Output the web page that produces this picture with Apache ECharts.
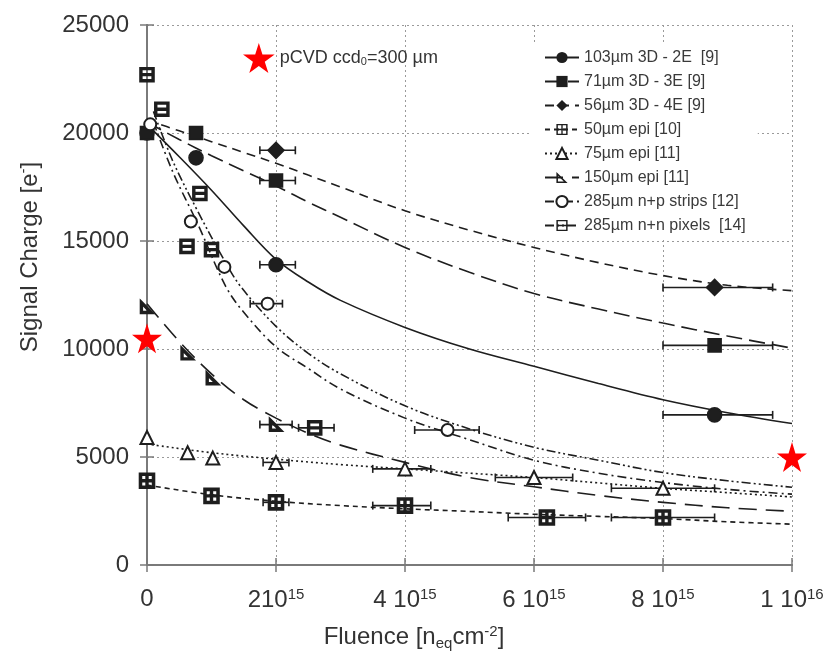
<!DOCTYPE html>
<html><head><meta charset="utf-8">
<script src="https://cdn.jsdelivr.net/npm/echarts@6/dist/echarts.min.js"></script>
<style>html,body{margin:0;padding:0;background:#fff}#c{width:828px;height:660px}</style>
</head><body><div id="c"></div>
<script>
// x values in units of 1e15 n_eq/cm^2, y in electrons
const seriesNames = ['103µm 3D - 2E  [9]','71µm 3D - 3E [9]','56µm 3D - 4E [9]','50µm epi [10]','75µm epi [11]','150µm epi [11]','285µm n+p strips [12]','285µm n+n pixels  [14]'];

// measured points
const p103X = [0, 0.76, 2, 8.8];           const p103Y = [20000, 18850, 13900, 6950];
const p71X  = [0, 0.76, 2, 8.8];           const p71Y  = [20000, 20000, 17800, 10170];
const p56X  = [2, 8.8];                     const p56Y  = [19200, 12850];
const p50X  = [0, 1, 2, 4, 6.2, 8];         const p50Y  = [3900, 3200, 2900, 2750, 2200, 2200];
const p75X  = [0, 0.63, 1.02, 2, 4, 6, 8];  const p75Y  = [5900, 5200, 4950, 4750, 4450, 4050, 3550];
const p150X = [0, 0.63, 1.02, 2];           const p150Y = [11950, 9800, 8650, 6500];
const pnpX  = [0.05, 0.68, 1.2, 1.87, 4.66]; const pnpY = [20400, 15900, 13800, 12100, 6250];
const pnnX  = [0, 0.23, 0.62, 0.82, 1.0, 2.6]; const pnnY = [22700, 21100, 14750, 17200, 14600, 6350];

// fitted curves
const c103X = [0, 0.5, 1, 1.5, 2, 2.5, 3, 4, 5, 6, 7, 8, 9, 10];
const c103Y = [20400, 18900, 17350, 15700, 14150, 13100, 12250, 11000, 10000, 9200, 8400, 7650, 7050, 6550];
const c71X  = [0, 0.5, 1, 1.5, 2, 2.5, 3, 4, 5, 6, 7, 8, 9, 10];
const c71Y  = [20500, 19700, 18950, 18250, 17550, 16800, 16100, 14700, 13550, 12570, 11850, 11200, 10600, 10040];
const c56X  = [0, 0.5, 1, 1.5, 2, 2.5, 3, 4, 5, 6, 7, 8, 9, 10];
const c56Y  = [20600, 20100, 19600, 19100, 18600, 18050, 17500, 16400, 15500, 14700, 14000, 13400, 12950, 12700];
const c50X  = [0, 1, 2, 3, 4, 5, 6, 7, 8, 9, 10];
const c50Y  = [3700, 3250, 2950, 2750, 2600, 2480, 2350, 2250, 2150, 2000, 1890];
const c75X  = [0, 1, 2, 3, 4, 5, 6, 7, 8, 9, 10];
const c75Y  = [5600, 5200, 4900, 4650, 4450, 4250, 4050, 3800, 3550, 3350, 3150];
const c150X = [0, 0.5, 1, 1.5, 2, 2.5, 3, 4, 5, 6, 7, 8, 9, 10];
const c150Y = [12100, 10350, 8850, 7650, 6800, 6100, 5550, 4750, 4050, 3620, 3220, 2900, 2650, 2490];
const cnpX  = [0.1, 0.4, 0.8, 1.22, 1.5, 2, 2.5, 3, 4, 5, 6, 7, 8, 9, 10];
const cnpY  = [20500, 18200, 15700, 12900, 11700, 10100, 9100, 8150, 6800, 5800, 4850, 4250, 3820, 3500, 3280];
const cnnX  = [0.1, 0.4, 0.8, 1.2, 1.45, 2, 2.5, 3, 4, 5, 6, 7, 8, 9, 10];
const cnnY  = [21000, 18700, 16300, 14100, 12900, 11050, 9800, 8850, 7370, 6300, 5450, 4850, 4280, 3900, 3600];

// horizontal error bars
const errX  = [2, 8.8, 2, 8.8, 2, 8.8, 1.87, 4.66, 2, 2.6, 2, 4, 6.2, 8, 2, 4, 6, 8];
const errY  = [13900, 6950, 17800, 10170, 19200, 12850, 12100, 6250, 6500, 6350, 2900, 2750, 2200, 2200, 4750, 4450, 4050, 3550];
const errLo = [1.75, 8, 1.75, 8, 1.75, 8, 1.6, 4.15, 1.75, 2.35, 1.8, 3.5, 5.6, 7.2, 1.8, 3.5, 5.4, 7.2];
const errHi = [2.3, 9.7, 2.3, 9.7, 2.3, 9.7, 2.1, 5.15, 2.25, 2.9, 2.2, 4.4, 6.8, 8.8, 2.2, 4.4, 6.6, 8.8];

// pCVD stars
const starX = [0, 10];
const starY = [10500, 5000];

// axis ticks
const xTickVals = [0, 2, 4, 6, 8, 10];
const xTickMant = ['0', '210', '4 10', '6 10', '8 10', '1 10'];
const xTickExp  = ['', '15', '15', '15', '15', '16'];

const zip = (a, b) => a.map((v, i) => [v, b[i]]);

const SQ_CROSS = 'path://M0,0 L10,0 L10,10 L0,10 Z M1.3,1.3 L1.3,4.4 L4.4,4.4 L4.4,1.3 Z M5.6,1.3 L5.6,4.4 L8.7,4.4 L8.7,1.3 Z M1.3,5.6 L1.3,8.7 L4.4,8.7 L4.4,5.6 Z M5.6,5.6 L5.6,8.7 L8.7,8.7 L8.7,5.6 Z';
const SQ_BAR = 'path://M0,0 L10,0 L10,10 L0,10 Z M1.3,1.3 L1.3,4.4 L8.7,4.4 L8.7,1.3 Z M1.3,5.6 L1.3,8.7 L8.7,8.7 L8.7,5.6 Z';
const RTRI = 'path://M0,0 L10,10 L0,10 Z M1.4,3.4 L1.4,8.6 L6.6,8.6 Z';
const STAR = 'path://M50,0 L61,35 L98,35 L68,57 L79,91 L50,70 L21,91 L32,57 L2,35 L39,35 Z';

const INK = '#1e1e1e';
const styles = [
  {sym: 'circle', size: 14, type: 'solid'},
  {sym: 'rect', size: 13, type: [16, 7]},
  {sym: 'diamond', size: 16, type: [9, 6]},
  {sym: SQ_CROSS, size: 15, type: [5, 4]},
  {sym: 'emptyTriangle', size: 13, type: [2, 3]},
  {sym: RTRI, size: 13, type: [18, 9]},
  {sym: 'emptyCircle', size: 12, type: [9, 4, 2, 4]},
  {sym: SQ_BAR, size: 14, type: [9, 3, 2, 3, 2, 3]}
];
const curves = [[c103X, c103Y], [c71X, c71Y], [c56X, c56Y], [c50X, c50Y], [c75X, c75Y], [c150X, c150Y], [cnpX, cnpY], [cnnX, cnnY]];
const points = [[p103X, p103Y], [p71X, p71Y], [p56X, p56Y], [p50X, p50Y], [p75X, p75Y], [p150X, p150Y], [pnpX, pnpY], [pnnX, pnnY]];

const series = [];
curves.forEach((c, i) => {
  series.push({
    name: seriesNames[i], type: 'line', smooth: 0.35, showSymbol: false,
    symbol: styles[i].sym, symbolSize: styles[i].size,
    data: zip(c[0], c[1]),
    lineStyle: {color: INK, width: 1.6, type: styles[i].type},
    itemStyle: {color: INK, borderWidth: 1.6},
    z: 2, silent: true
  });
});
series.push({
  name: 'errors', type: 'custom',
  data: errX.map((x, i) => [x, errY[i], errLo[i], errHi[i]]),
  encode: {x: [0, 2, 3], y: 1},
  z: 3, silent: true,
  renderItem: (params, api) => {
    const y = api.value(1);
    const a = api.coord([api.value(2), y]);
    const b = api.coord([api.value(3), y]);
    const st = {stroke: INK, lineWidth: 1.6};
    return {type: 'group', children: [
      {type: 'line', shape: {x1: a[0], y1: a[1], x2: b[0], y2: b[1]}, style: st},
      {type: 'line', shape: {x1: a[0], y1: a[1] - 4, x2: a[0], y2: a[1] + 4}, style: st},
      {type: 'line', shape: {x1: b[0], y1: b[1] - 4, x2: b[0], y2: b[1] + 4}, style: st}
    ]};
  }
});
points.forEach((p, i) => {
  series.push({
    name: 'pts' + i, type: 'scatter', symbol: styles[i].sym, symbolSize: styles[i].size,
    data: zip(p[0], p[1]),
    itemStyle: {color: INK, borderColor: INK, borderWidth: 1.6, opacity: 1},
    z: 4, silent: true
  });
});
series.push({
  name: 'pCVD', type: 'scatter', symbol: STAR, symbolSize: 30,
  data: zip(starX, starY), itemStyle: {color: '#ff0000', opacity: 1}, z: 5, silent: true
});

const chart = echarts.init(document.getElementById('c'), null, {renderer: 'canvas'});
const FONT = 'Liberation Sans, Arial, sans-serif';
chart.setOption({
  animation: false,
  backgroundColor: '#fff',
  textStyle: {fontFamily: FONT},
  grid: {left: 147, right: 36, top: 25, bottom: 95},
  legend: [{
    data: seriesNames, orient: 'vertical', left: 530, top: 44,
    itemWidth: 34, itemHeight: 14, itemGap: 7,
    padding: [5, 12, 6, 14], backgroundColor: '#fff',
    textStyle: {fontSize: 16, color: '#3a3a3a', fontFamily: FONT, lineHeight: 17},
    selectedMode: false
  }, {
    data: ['pCVD'], orient: 'horizontal', left: 238, top: 38,
    itemWidth: 32, itemHeight: 30, icon: STAR, itemStyle: {color: '#ff0000', opacity: 1},
    formatter: () => 'pCVD ccd{s|0}=300 µm',
    textStyle: {fontSize: 18, color: '#333', fontFamily: FONT,
      rich: {s: {fontSize: 11, verticalAlign: 'bottom', padding: [8, 0, 0, 0], color: '#333'}}},
    selectedMode: false
  }],
  xAxis: [{
    type: 'value', min: 0, max: 10, interval: 2,
    axisLine: {show: true, lineStyle: {color: '#7a7a7a', width: 2}},
    axisTick: {show: true, inside: true, length: 7, lineStyle: {color: '#7a7a7a', width: 1.5}},
    splitLine: {show: true, lineStyle: {color: '#9a9a9a', type: [2, 3], width: 1}},
    axisLabel: {
      margin: 22, color: '#333', fontSize: 24, fontFamily: FONT,
      formatter: v => {
        const i = xTickVals.indexOf(v);
        if (i < 0) return '';
        return xTickExp[i] ? '{m|' + xTickMant[i] + '}{e|' + xTickExp[i] + '}' : '{m|' + xTickMant[i] + '}';
      },
      rich: {m: {fontSize: 24, color: '#333'}, e: {fontSize: 15, color: '#333', verticalAlign: 'top', padding: [0, 0, 12, 0]}}
    }
  }, {
    type: 'value', min: 0, max: 10, interval: 2, position: 'top',
    axisLine: {show: true, lineStyle: {color: '#7a7a7a', width: 2}},
    axisTick: {show: true, inside: true, length: 7, lineStyle: {color: '#7a7a7a', width: 1.5}},
    axisLabel: {show: false}, splitLine: {show: false}
  }],
  yAxis: [{
    type: 'value', min: 0, max: 25000, interval: 5000,
    axisLine: {show: true, lineStyle: {color: '#7a7a7a', width: 2}},
    axisTick: {show: true, inside: true, length: 7, lineStyle: {color: '#7a7a7a', width: 1.5}},
    splitLine: {show: true, lineStyle: {color: '#9a9a9a', type: [2, 3], width: 1}},
    axisLabel: {margin: 18, color: '#333', fontSize: 24, fontFamily: FONT, formatter: v => String(v)}
  }, {
    type: 'value', min: 0, max: 25000, interval: 5000, position: 'right',
    axisLine: {show: true, lineStyle: {color: '#7a7a7a', width: 2}},
    axisTick: {show: true, inside: true, length: 7, lineStyle: {color: '#7a7a7a', width: 1.5}},
    axisLabel: {show: false}, splitLine: {show: false}
  }],
  graphic: [{
    type: 'text', left: 'center', top: 624,
    style: {
      text: 'Fluence [n{sub|eq}cm{sup|-2}]', fill: '#333', font: '24px ' + FONT,
      rich: {sub: {fontSize: 15, verticalAlign: 'bottom', padding: [12, 0, 0, 0], fill: '#333'},
             sup: {fontSize: 15, verticalAlign: 'top', padding: [0, 0, 12, 0], fill: '#333'}}
    }
  }, {
    type: 'text', x: 30, y: 257, rotation: Math.PI / 2,
    style: {
      text: 'Signal Charge [e{sup|-}]', fill: '#333', font: '24px ' + FONT,
      align: 'center', verticalAlign: 'middle',
      rich: {sup: {fontSize: 15, verticalAlign: 'top', padding: [0, 0, 12, 0], fill: '#333'}}
    }
  }],
  series: series
});
</script></body></html>
